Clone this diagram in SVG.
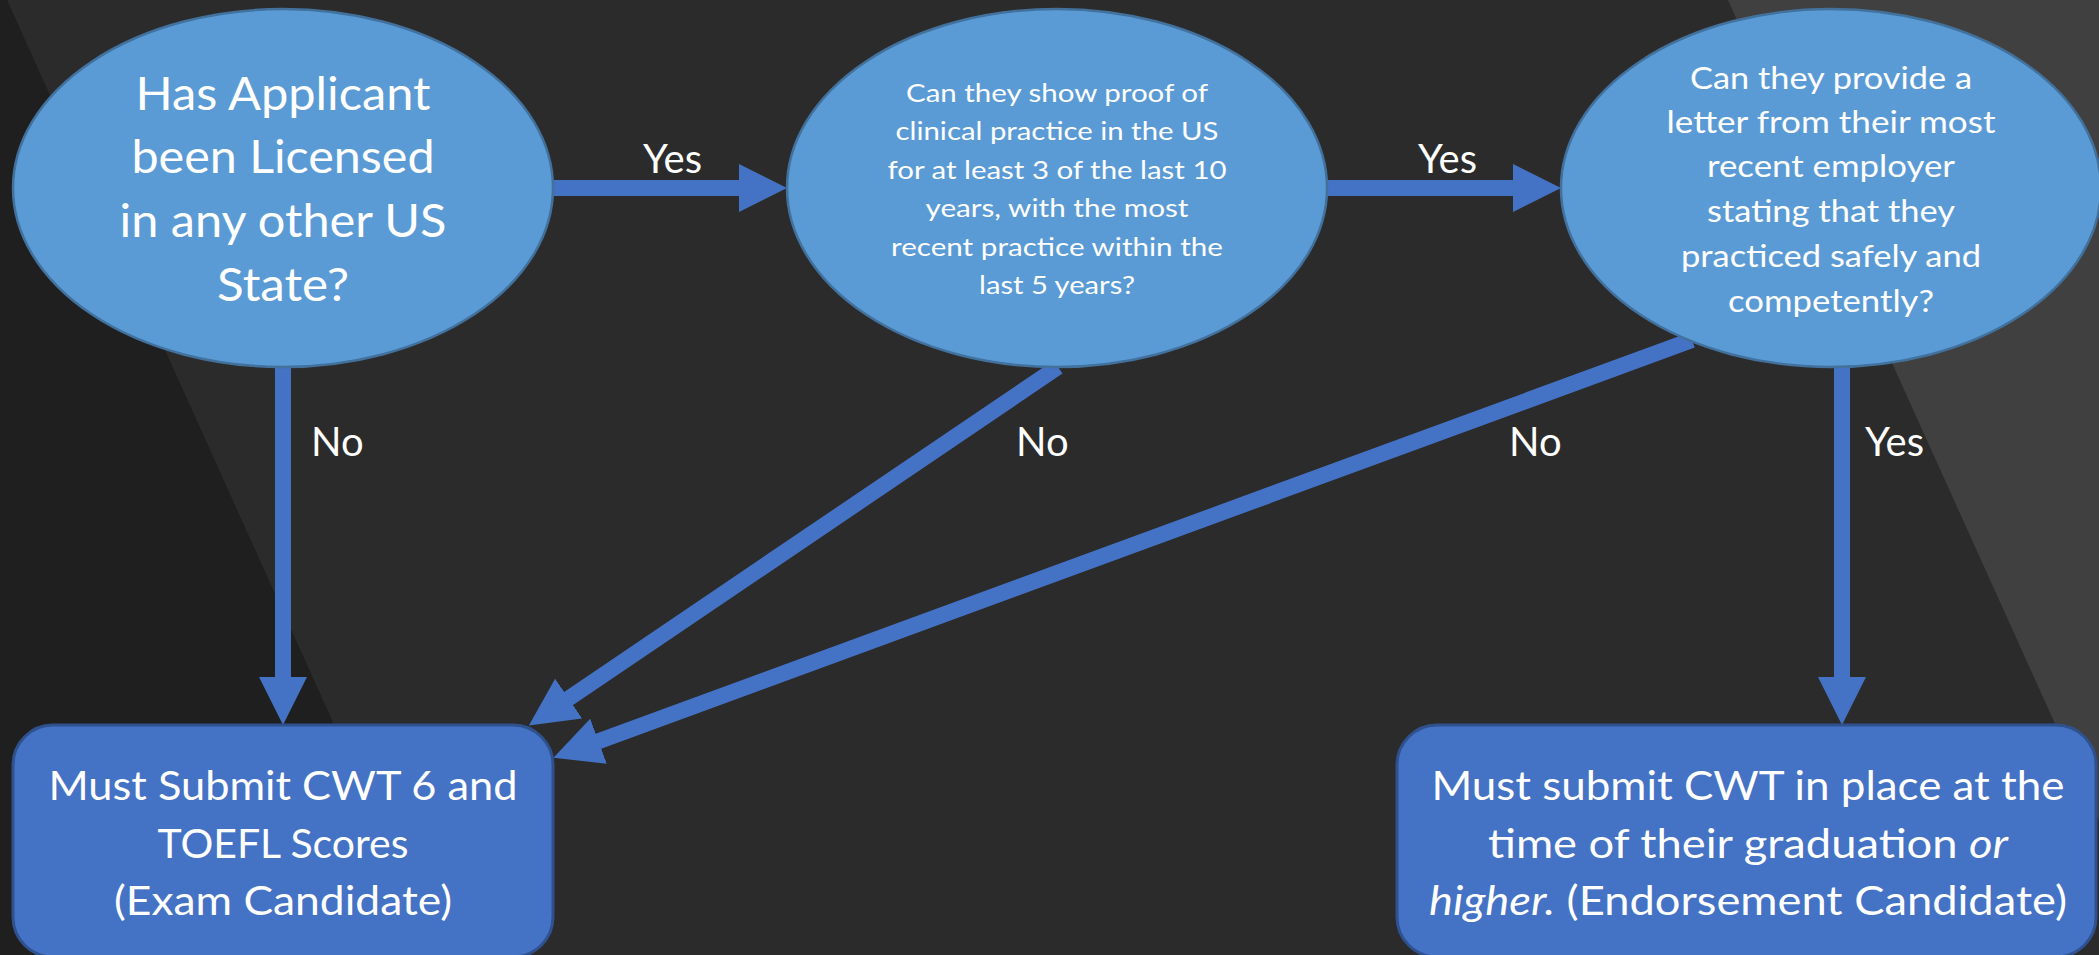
<svg xmlns="http://www.w3.org/2000/svg" width="2099" height="955" viewBox="0 0 2099 955">
  <style>
    .bg { fill: #2B2B2B; }
    .bgdark { fill: #1F1F1F; }
    .bglight { fill: #404040; }
    .decision { fill: #5B9BD5; stroke: #41719C; stroke-width: 2.5; }
    .result { fill: #4472C4; stroke: #2F528F; stroke-width: 3; }
    .conn { fill: none; stroke: #4472C4; stroke-width: 16; }
    .t { font-family: Lato, "Open Sans", "Liberation Sans", sans-serif; fill: #FFFFFF; text-anchor: middle; }
    .lbl { font-family: Lato, "Open Sans", "Liberation Sans", sans-serif; fill: #FFFFFF; font-size: 40px; }
    .t1 { font-size: 46px; }
    .t2 { font-size: 25.5px; }
    .t3 { font-size: 31.7px; }
    .tb { font-size: 40px; }
    .it { font-style: italic; }
  </style>
  <defs>
    <marker id="arrow" markerUnits="userSpaceOnUse" viewBox="0 0 48 48" markerWidth="48" markerHeight="48" refX="8" refY="24" orient="auto">
      <path d="M0,0 L48,24 L0,48 Z" fill="#4472C4"/>
    </marker>
  </defs>

  <g id="background">
    <rect class="bg" x="0" y="0" width="2099" height="955"/>
    <polygon class="bgdark" points="0,0 7,0 438,955 0,955"/>
    <polygon class="bglight" points="1728,0 2099,0 2099,821"/>
  </g>

  <g id="connectors">
    <path class="conn" d="M553,188 L747,188" marker-end="url(#arrow)"/>
    <path class="conn" d="M1327,188 L1521,188" marker-end="url(#arrow)"/>
    <path class="conn" d="M283,367 L283,685" marker-end="url(#arrow)"/>
    <path class="conn" d="M1842,367 L1842,685" marker-end="url(#arrow)"/>
    <path class="conn" d="M1058,367 L562,703" marker-end="url(#arrow)"/>
    <path class="conn" d="M1692,340 L591,744" marker-end="url(#arrow)"/>
    <text class="lbl" x="643" y="173">Yes</text>
    <text class="lbl" x="1418" y="173">Yes</text>
    <text class="lbl" x="311" y="456">No</text>
    <text class="lbl" x="1016" y="456">No</text>
    <text class="lbl" x="1509" y="456">No</text>
    <text class="lbl" x="1865" y="456">Yes</text>
  </g>

  <g id="node-licensed">
    <ellipse class="decision" cx="283" cy="188" rx="270" ry="179"/>
    <text class="t t1" x="283" y="110" textLength="295" lengthAdjust="spacingAndGlyphs">Has Applicant</text>
    <text class="t t1" x="283" y="173" textLength="303" lengthAdjust="spacingAndGlyphs">been Licensed</text>
    <text class="t t1" x="283" y="237" textLength="327" lengthAdjust="spacingAndGlyphs">in any other US</text>
    <text class="t t1" x="283" y="301" textLength="132" lengthAdjust="spacingAndGlyphs">State?</text>
  </g>

  <g id="node-practice">
    <ellipse class="decision" cx="1057" cy="188" rx="270" ry="179"/>
    <text class="t t2" x="1057" y="102" textLength="302" lengthAdjust="spacingAndGlyphs">Can they show proof of</text>
    <text class="t t2" x="1057" y="140" textLength="323" lengthAdjust="spacingAndGlyphs">clinical practice in the US</text>
    <text class="t t2" x="1057" y="179" textLength="339" lengthAdjust="spacingAndGlyphs">for at least 3 of the last 10</text>
    <text class="t t2" x="1057" y="217" textLength="263" lengthAdjust="spacingAndGlyphs">years, with the most</text>
    <text class="t t2" x="1057" y="256" textLength="332" lengthAdjust="spacingAndGlyphs">recent practice within the</text>
    <text class="t t2" x="1057" y="294" textLength="156" lengthAdjust="spacingAndGlyphs">last 5 years?</text>
  </g>

  <g id="node-letter">
    <ellipse class="decision" cx="1831" cy="188" rx="270" ry="179"/>
    <text class="t t3" x="1831" y="89" textLength="282" lengthAdjust="spacingAndGlyphs">Can they provide a</text>
    <text class="t t3" x="1831" y="133" textLength="329" lengthAdjust="spacingAndGlyphs">letter from their most</text>
    <text class="t t3" x="1831" y="177" textLength="248" lengthAdjust="spacingAndGlyphs">recent employer</text>
    <text class="t t3" x="1831" y="222" textLength="248" lengthAdjust="spacingAndGlyphs">stating that they</text>
    <text class="t t3" x="1831" y="267" textLength="300" lengthAdjust="spacingAndGlyphs">practiced safely and</text>
    <text class="t t3" x="1831" y="312" textLength="206" lengthAdjust="spacingAndGlyphs">competently?</text>
  </g>

  <g id="node-exam">
    <rect class="result" x="13" y="725" width="540" height="232" rx="40" ry="40"/>
    <text class="t tb" x="283" y="800" textLength="469" lengthAdjust="spacingAndGlyphs">Must Submit CWT 6 and</text>
    <text class="t tb" x="283" y="858" textLength="251" lengthAdjust="spacingAndGlyphs">TOEFL Scores</text>
    <text class="t tb" x="283" y="915" textLength="338" lengthAdjust="spacingAndGlyphs">(Exam Candidate)</text>
  </g>

  <g id="node-endorsement">
    <rect class="result" x="1397" y="725" width="699" height="232" rx="40" ry="40"/>
    <text class="t tb" x="1748" y="800" textLength="633" lengthAdjust="spacingAndGlyphs">Must submit CWT in place at the</text>
    <text class="t tb" x="1748" y="858" textLength="520" lengthAdjust="spacingAndGlyphs">time of their graduation <tspan class="it">or</tspan></text>
    <text class="t tb" x="1748" y="915" textLength="638" lengthAdjust="spacingAndGlyphs"><tspan class="it">higher.</tspan> (Endorsement Candidate)</text>
  </g>
</svg>
